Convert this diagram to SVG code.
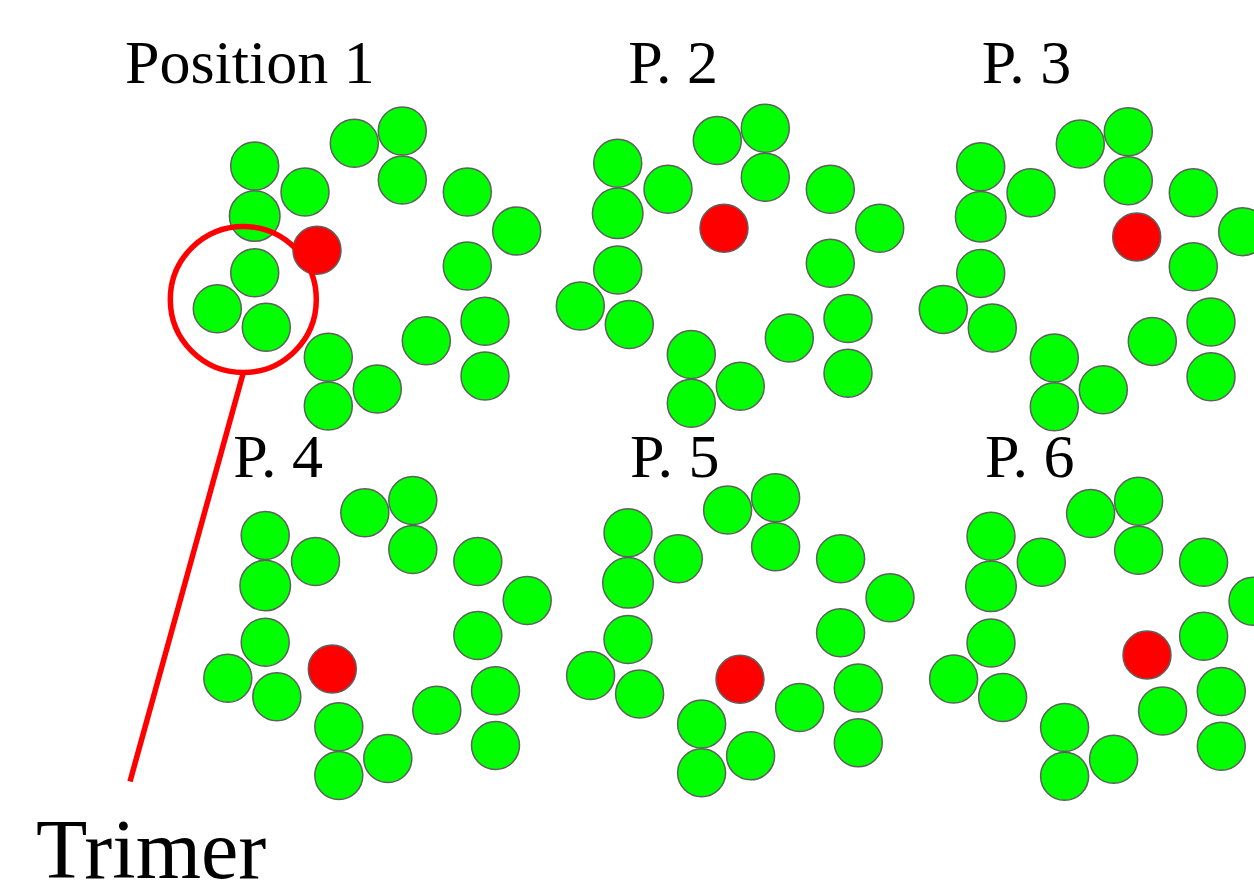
<svg xmlns="http://www.w3.org/2000/svg" xmlns:xlink="http://www.w3.org/1999/xlink" width="1254" height="882" viewBox="0 0 1254 882">
  <style>
    .g { fill: #00ff00; stroke: #5f5f5f; stroke-width: 1.5; }
    .r { fill: #ff0000; stroke: #5f5f5f; stroke-width: 1.5; }
    .lbl { font-family: "Liberation Serif", "Times New Roman", serif; font-size: 62px; fill: #000; }
    .big { font-family: "Liberation Serif", "Times New Roman", serif; font-size: 84px; fill: #000; }
    .ring { fill: none; stroke: #ff0000; stroke-width: 5.5; }
  </style>
  <defs>
    <g id="pattern">
      <circle class="g" cx="254.7" cy="166" r="24"/>
      <circle class="g" cx="254.7" cy="216" r="25.3"/>
      <circle class="g" cx="305" cy="192" r="24"/>
      <circle class="g" cx="354.3" cy="143.3" r="24"/>
      <circle class="g" cx="402.3" cy="131" r="24"/>
      <circle class="g" cx="402.3" cy="180" r="24"/>
      <circle class="g" cx="467.3" cy="192" r="24"/>
      <circle class="g" cx="516.7" cy="231" r="24"/>
      <circle class="g" cx="467.3" cy="266" r="24"/>
      <circle class="g" cx="485" cy="321.3" r="24"/>
      <circle class="g" cx="485" cy="376" r="24"/>
      <circle class="g" cx="426.3" cy="340.7" r="24"/>
      <circle class="g" cx="328.3" cy="357.3" r="24"/>
      <circle class="g" cx="328.3" cy="406" r="24"/>
      <circle class="g" cx="377.3" cy="389" r="24"/>
      <circle class="g" cx="254.7" cy="272.7" r="24"/>
      <circle class="g" cx="217.3" cy="308.7" r="24"/>
      <circle class="g" cx="266.3" cy="327.3" r="24"/>
    </g>
  </defs>

  <g id="panel1">
    <text class="lbl" x="125" y="82.7">Position 1</text>
    <use xlink:href="#pattern" href="#pattern"/>
    <circle class="r" cx="317" cy="250.3" r="24"/>
  </g>
  <g id="panel2">
    <text class="lbl" x="628.3" y="82.7">P. 2</text>
    <use xlink:href="#pattern" href="#pattern" transform="translate(363,-2.7)"/>
    <circle class="r" cx="724" cy="228.3" r="24"/>
  </g>
  <g id="panel3">
    <text class="lbl" x="981.7" y="82.7">P. 3</text>
    <use xlink:href="#pattern" href="#pattern" transform="translate(726,0.7)"/>
    <circle class="r" cx="1136.7" cy="237" r="24"/>
  </g>
  <g id="panel4">
    <text class="lbl" x="233.3" y="476.7">P. 4</text>
    <use xlink:href="#pattern" href="#pattern" transform="translate(10.5,369.5)"/>
    <circle class="r" cx="332.3" cy="669" r="24"/>
  </g>
  <g id="panel5">
    <text class="lbl" x="630" y="476.7">P. 5</text>
    <use xlink:href="#pattern" href="#pattern" transform="translate(373.3,366.8)"/>
    <circle class="r" cx="740" cy="679.3" r="24"/>
  </g>
  <g id="panel6">
    <text class="lbl" x="985" y="476.7">P. 6</text>
    <use xlink:href="#pattern" href="#pattern" transform="translate(736.3,370.3)"/>
    <circle class="r" cx="1147" cy="655" r="24"/>
  </g>

  <g id="connectors">
    <circle class="ring" cx="243.3" cy="299.5" r="73"/>
    <line x1="243.5" y1="372" x2="130" y2="781.5" stroke="#ff0000" stroke-width="5.5"/>
  </g>
  <g id="trimer-label">
    <text class="big" x="36" y="878">Trimer</text>
  </g>
</svg>
